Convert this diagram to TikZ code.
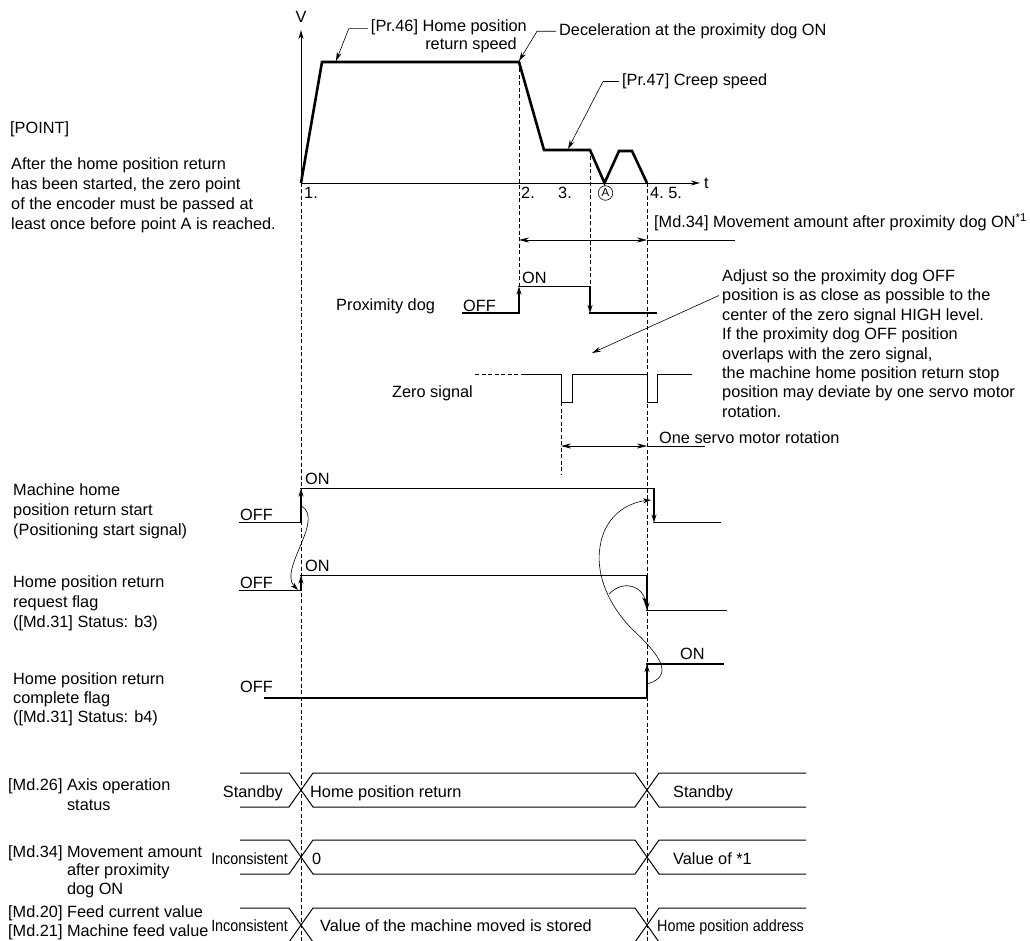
\documentclass[tikz,border=0pt]{standalone}
\usepackage{fontspec}
\setmainfont{Liberation Sans}
\newfontfamily\narrowfont[FakeStretch=0.88]{Liberation Sans}
\usetikzlibrary{arrows.meta}

\begin{document}
\begin{tikzpicture}[x=1pt, y=-1pt,
    every node/.style={inner sep=0pt, font=\fontsize{16.3}{19.5}\selectfont},
    lbl/.style={anchor=base west, align=left},
    rlbl/.style={anchor=base east},
    narrow/.style={font=\narrowfont\fontsize{16.3}{19.5}\selectfont},
    ringed/.style={circle, draw, line width=0.6pt, minimum size=14.5pt, inner sep=0pt,
                   font=\fontsize{11.5}{12}\selectfont},
    axis/.style={line width=0.9pt, -{Stealth[length=9pt, width=5pt]}},
    profile/.style={line width=2.6pt},
    guide/.style={line width=0.7pt, dash pattern=on 4pt off 2.5pt},
    leader/.style={line width=0.6pt, -{Stealth[length=9pt, width=5pt]}},
    span/.style={line width=0.6pt, {Stealth[length=10pt, width=5pt]}-{Stealth[length=10pt, width=5pt]}},
    level/.style={line width=1.4pt, line cap=rect},
    edge/.style={line width=1.4pt, -{Stealth[length=8pt, width=5pt]}},
    pulse/.style={line width=1pt},
    hook/.style={line width=0.6pt, -{Stealth[length=8pt, width=5pt]}},
    bus/.style={line width=1pt}
]
    \useasboundingbox (0,0) rectangle (1030,941);

    % Speed profile
    \draw[axis] (301,183) -- (301,30);
    \draw[axis] (301,183) -- (700,183);
    \node[anchor=base] (vlab) at (301,22.5) {V};
    \node[lbl] (tlab) at (704,189) {t};
    \draw[profile] (301,183) -- (322,62) -- (519,62) -- (544,150) -- (590,150)
        -- (604.5,183) -- (619,151) -- (632,151) -- (647,183);
    \coordinate (fastpt) at (336,61);
    \coordinate (decpt) at (519,61);
    \coordinate (creeppt) at (568,149);

    % Points on the time axis
    \node[lbl] (n1) at (304,199) {1.};
    \node[lbl] (n2) at (521,199) {2.};
    \node[lbl] (n3) at (558,199) {3.};
    \node[ringed] (nA) at (605.5,193) {A};
    \node[lbl] (n45) at (650,199) {4.\ 5.};

    % Speed labels
    \node[rlbl, align=right, font=\fontsize{16.3}{18.3}\selectfont] (pr46) at (527,50)
        {[Pr.46] Home position\\return speed\hspace*{10pt}};
    \draw[leader] ([xshift=-3pt, yshift=-9pt]pr46.north west) -- ++(-19,0) -- (fastpt);
    \node[lbl] (decel) at (559,35.5) {Deceleration at the proximity dog ON};
    \draw[leader] ([xshift=-3pt]decel.west) -- ++(-19,0) -- (decpt);
    \node[lbl] (pr47) at (622,85.7) {[Pr.47] Creep speed};
    \draw[leader] ([xshift=-3pt]pr47.west) -- ++(-16,0) -- (creeppt);

    % Point note
    \node[lbl] (point) at (10,134) {[POINT]};
    \node[lbl, font=\fontsize{16.3}{20.2}\selectfont] (pointtxt) at (11,229.9)
        {After the home position return\\has been started, the zero point\\of the encoder must be passed at\\least once before point A is reached.};

    % Guides
    \draw[guide] (301,183) -- (301,941);
    \draw[guide] (519,62) -- (519,313);
    \draw[guide] (590,150) -- (590,287);
    \draw[guide] (647,183) -- (647,941);
    \draw[guide] (561,402) -- (561,475);

    % Movement amount after proximity dog ON
    \draw[span] (519,240) -- (647,240);
    \draw[line width=0.6pt] (647,240) -- (735,240);
    \node[lbl] (md34) at (654,228) {[Md.34] Movement amount after proximity dog ON\textsuperscript{*1}};

    % Proximity dog
    \node[lbl] (proxlab) at (336,310.7) {Proximity dog};
    \node[lbl] (proxoff) at (463,311.5) {OFF};
    \node[lbl] (proxon) at (522,283.5) {ON};
    \draw[level] (463,313) -- (519,313);
    \draw[edge] (519,313) -- (519,286.5);
    \draw[level] (519,286.5) -- (590,286.5);
    \draw[edge] (590,286.5) -- (590,313);
    \draw[level] (590,313) -- (656,313);

    % Zero signal
    \node[lbl] (zerolab) at (392,397.3) {Zero signal};
    \draw[guide] (475,374) -- (523,374);
    \draw[pulse] (523,374) -- (561,374) -- (561,402) -- (572,402) -- (572,374) -- (647,374)
        -- (647,402) -- (657,402) -- (657,374) -- (692,374);

    % Adjustment note
    \node[lbl, font=\fontsize{16.3}{19.4}\selectfont] (note) at (722,417.3)
        {Adjust so the proximity dog OFF\\position is as close as possible to the\\center of the zero signal HIGH level.\\If the proximity dog OFF position\\overlaps with the zero signal,\\the machine home position return stop\\position may deviate by one servo motor\\rotation.};
    \coordinate (aim) at (592,353);
    \draw[leader] ([xshift=-3pt, yshift=-26pt]note.north west) -- (aim);

    % One servo motor rotation
    \draw[span] (561,446) -- (647,446);
    \draw[line width=0.6pt] (647,446) -- (705,446);
    \node[lbl] (servo) at (659,443) {One servo motor rotation};

    % Machine home position return start
    \node[lbl, font=\fontsize{16.3}{20}\selectfont] (startlab) at (13,535.7)
        {Machine home\\position return start\\(Positioning start signal)};
    \node[lbl] (startoff) at (240,520.7) {OFF};
    \node[lbl] (starton) at (305,484) {ON};
    \draw[level] (240,522.5) -- (301,522.5);
    \draw[edge] (301,522.5) -- (301,488.5);
    \draw[level] (301,488.5) -- (654,488.5);
    \draw[edge] (654,488.5) -- (654,522.5);
    \draw[level] (654,522.5) -- (720,522.5);

    % Home position return request flag
    \node[lbl, font=\fontsize{16.3}{20}\selectfont] (reqlab) at (13,627.5)
        {Home position return\\request flag\\([Md.31] Status: b3)};
    \node[lbl] (reqoff) at (240,588.7) {OFF};
    \node[lbl] (reqon) at (305,571) {ON};
    \draw[level] (240,590.5) -- (301,590.5);
    \draw[edge] (301,590.5) -- (301,575.5);
    \draw[level] (301,575.5) -- (647,575.5);
    \draw[edge] (647,575.5) -- (647,610.5);
    \draw[level] (647,610.5) -- (726,610.5);

    % Home position return complete flag
    \node[lbl, font=\fontsize{16.3}{19.2}\selectfont] (complab) at (13,722.4)
        {Home position return\\complete flag\\([Md.31] Status: b4)};
    \node[lbl] (compoff) at (240,692.4) {OFF};
    \node[lbl] (compon) at (680,659) {ON};
    \draw[level] (265,698) -- (647,698);
    \draw[edge] (647,698) -- (647,664);
    \draw[level] (647,664) -- (723,664);

    % Cause and effect
    \draw[hook] (301.5,506) .. controls (325,520) and (278,570) .. (298,590);
    \draw[hook] (647,684) .. controls (675,676) and (660,655) .. (633,630)
        .. controls (605,602) and (596,570) .. (600,547)
        .. controls (604,518) and (625,503) .. (651,500);
    \draw[hook] (609,594) .. controls (625,578) and (643,588) .. (646,605);

    % Monitor data
    \foreach \yt in {773,840,908} {
        \draw[bus] (240,\yt) -- (289,\yt) -- (313,\yt+34) -- (635,\yt+34) -- (659,\yt) -- (806,\yt);
        \draw[bus] (240,\yt+34) -- (289,\yt+34) -- (313,\yt) -- (635,\yt) -- (659,\yt+34) -- (806,\yt+34);
    }
    \node[lbl] (md26lab) at (8,810.2) {[Md.26] Axis operation\\\hphantom{[Md.26]}\ status};
    \node[lbl, font=\fontsize{16.3}{18.3}\selectfont] (md34lab) at (8,894)
        {[Md.34] Movement amount\\\hphantom{[Md.34]}\ after proximity\\\hphantom{[Md.34]}\ dog ON};
    \node[lbl, font=\fontsize{16.3}{19.5}\selectfont] (md20lab) at (8,936.5)
        {[Md.20] Feed current value\\{}[Md.21] Machine feed value};

    \node[rlbl] (sb1) at (283,797.4) {Standby};
    \node[lbl] (hpr) at (310,797.4) {Home position return};
    \node[lbl] (sb2) at (673,797.4) {Standby};
    \node[rlbl, narrow] (inc1) at (288,864) {Inconsistent};
    \node[lbl] (zero) at (312,864) {0};
    \node[lbl] (val1) at (673,864) {Value of *1};
    \node[rlbl, narrow] (inc2) at (288,931.4) {Inconsistent};
    \node[lbl] (moved) at (320,931.4) {Value of the machine moved is stored};
    \node[lbl, narrow] (hpa) at (657,931.4) {Home position address};
\end{tikzpicture}
\end{document}
